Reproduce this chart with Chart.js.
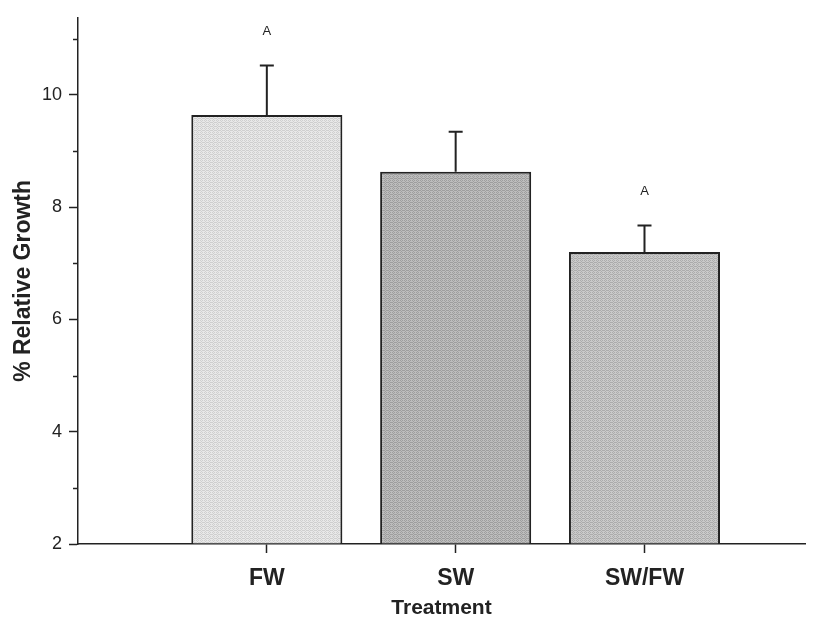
<!DOCTYPE html>
<html>
<head>
<meta charset="utf-8">
<script src="https://cdn.jsdelivr.net/npm/chart.js@4/dist/chart.umd.min.js"></script>
<style>
  html, body { margin: 0; padding: 0; background: #fff; }
  canvas { display: block; }
</style>
</head>
<body>
<canvas id="c" width="821" height="617"></canvas>
<script>
const treatments = ['FW', 'SW', 'SW/FW'];
const growth = [9.64, 8.63, 7.20];
const sem = [0.88, 0.71, 0.47];
const letters = ['A', '', 'A'];
const yTicks = [2, 3, 4, 5, 6, 7, 8, 9, 10, 11];

const FONT = '"Liberation Sans", Arial, sans-serif';
const INK = '#222';

// stippled gray fills, like the old print hatching
function stipple(light, dark) {
  const c = document.createElement('canvas');
  c.width = 4; c.height = 4;
  const g = c.getContext('2d');
  g.fillStyle = light; g.fillRect(0, 0, 4, 4);
  g.fillStyle = dark;
  [[0,0],[2,0],[1,1],[3,2],[0,2],[2,2],[1,3]].forEach(([x,y]) => g.fillRect(x, y, 1, 1));
  return g.createPattern(c, 'repeat');
}
const fills = [
  stipple('#e8e8e8', '#cfcfcf'),
  stipple('#bdbdbd', '#9e9e9e'),
  stipple('#cacaca', '#acacac')
];

const errorBars = {
  id: 'errorBars',
  afterDatasetsDraw(chart) {
    const { ctx, scales: { y } } = chart;
    const meta = chart.getDatasetMeta(0);
    ctx.save();
    ctx.strokeStyle = INK;
    ctx.lineWidth = 2;
    meta.data.forEach((bar, i) => {
      const top = y.getPixelForValue(growth[i] + sem[i]);
      ctx.beginPath();
      ctx.moveTo(bar.x, bar.y);
      ctx.lineTo(bar.x, top);
      ctx.moveTo(bar.x - 7, top);
      ctx.lineTo(bar.x + 7, top);
      ctx.stroke();
      if (letters[i]) {
        ctx.fillStyle = INK;
        ctx.font = '13px ' + FONT;
        ctx.textAlign = 'center';
        ctx.textBaseline = 'middle';
        ctx.fillText(letters[i], bar.x, top - 34);
      }
    });
    ctx.restore();
  }
};

// short minor ticks on odd values of the y axis
const minorTicks = {
  id: 'minorTicks',
  afterDraw(chart) {
    const { ctx, scales: { y } } = chart;
    ctx.save();
    ctx.strokeStyle = INK;
    ctx.lineWidth = 1.5;
    yTicks.filter(v => v % 2 === 1).forEach(v => {
      const py = Math.round(y.getPixelForValue(v)) + 0.5;
      ctx.beginPath();
      ctx.moveTo(y.right - 5, py);
      ctx.lineTo(y.right, py);
      ctx.stroke();
    });
    ctx.restore();
  }
};

new Chart(document.getElementById('c'), {
  type: 'bar',
  data: {
    datasets: [{
      data: treatments.map((t, i) => ({ x: i + 1, y: growth[i] })),
      backgroundColor: fills,
      borderColor: INK,
      borderWidth: 2,
      base: 2,
      barPercentage: 1,
      categoryPercentage: 0.8
    }]
  },
  options: {
    responsive: false,
    animation: false,
    layout: { padding: { top: 14, right: 16, left: 0, bottom: 0 } },
    plugins: { legend: { display: false }, tooltip: { enabled: false } },
    scales: {
      x: {
        type: 'linear',
        min: 0,
        max: 3.85,
        offset: false,
        afterBuildTicks: s => { s.ticks = treatments.map((t, i) => ({ value: i + 1 })); },
        afterFit: s => { s.height = 73; },
        ticks: {
          callback: v => treatments[v - 1] || '',
          color: INK,
          padding: 12,
          font: { family: FONT, size: 23, weight: 'bold' }
        },
        grid: { offset: false, drawOnChartArea: false, tickLength: 9, tickColor: INK, tickWidth: 1.5 },
        border: { color: INK, width: 1.5 },
        title: {
          display: true,
          text: 'Treatment',
          color: INK,
          padding: { top: 0, bottom: -4 },
          font: { family: FONT, size: 21, weight: 'bold' }
        }
      },
      y: {
        min: 2,
        max: 11.37,
        afterBuildTicks: s => { s.ticks = yTicks.map(v => ({ value: v })); },
        afterFit: s => { s.width = 78; },
        ticks: {
          callback: v => (v % 2 === 0 ? String(v) : ''),
          color: INK,
          padding: 7,
          font: { family: FONT, size: 18 }
        },
        grid: {
          drawOnChartArea: false,
          tickLength: 9,
          tickWidth: 1.5,
          tickColor: c => (c.tick && c.tick.value % 2 === 0 ? INK : 'rgba(0,0,0,0)')
        },
        border: { color: INK, width: 1.5 },
        title: {
          display: true,
          text: '% Relative Growth',
          color: INK,
          padding: { top: 10, bottom: 0 },
          font: { family: FONT, size: 23, weight: 'bold' }
        }
      }
    }
  },
  plugins: [errorBars, minorTicks]
});
</script>
</body>
</html>
